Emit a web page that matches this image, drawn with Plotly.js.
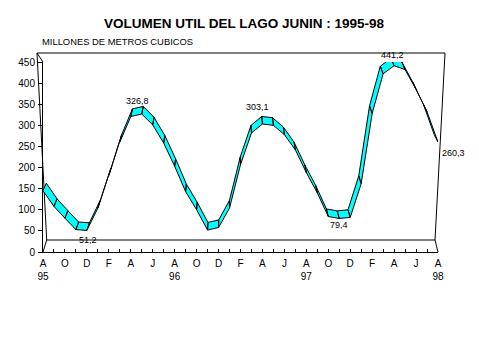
<!DOCTYPE html>
<html>
<head>
<meta charset="utf-8">
<script src="https://cdn.plot.ly/plotly-3.0.1.min.js"></script>
<style>html,body{margin:0;padding:0;background:#fff;}#chart{width:479px;height:359px;}</style>
</head>
<body>
<div id="chart"></div>
<script>
// Monthly volumes, Aug 1995 .. Aug 1998 (millones de m3)
const months = ["A","S","O","N","D","E","F","M","A","M","J","J",
                "A","S","O","N","D","E","F","M","A","M","J","J",
                "A","S","O","N","D","E","F","M","A","M","J","J","A"];
const tickLabels = ["A<br>95","","O","","D","","F","","A","","J","",
                    "A<br>96","","O","","D","","F","","A","","J","",
                    "A<br>97","","O","","D","","F","","A","","J","","A<br>98"];
const volumes = [145,108,80,53,51.2,104,181,260,321,326.8,301,258,
                 203,143,100,52,58,104,207,282,303.1,300,278,242,
                 188,140,84,79.4,82,162,328,422,441.2,432,385,332,260.3];
const labelIdx = [4,9,20,27,32,36];
const labelText = ["51,2","326,8","303,1","79,4","441,2","260,3"];
const yTicks = [0,50,100,150,200,250,300,350,400,450];

// ribbon depth (3D look with a central vanishing point)
const depthXLeft = 0.3, depthXRight = -0.35, depthY = 18;

const idx = volumes.map((v,i)=>i);
const n = volumes.length;
const dx = i => depthXLeft + (depthXRight - depthXLeft) * i / (n - 1);
const rx = [], ry = [];
for (let i = 0; i < n - 1; i++) {
  rx.push(idx[i], idx[i+1], idx[i+1]+dx(i+1), idx[i]+dx(i), idx[i], null);
  ry.push(volumes[i], volumes[i+1], volumes[i+1]+depthY, volumes[i]+depthY, volumes[i], null);
}

const ribbon = {
  x: rx, y: ry, type: 'scatter', mode: 'lines',
  fill: 'toself', fillcolor: '#00FFFF',
  line: {color: '#000000', width: 1},
  hoverinfo: 'skip', cliponaxis: false, showlegend: false
};

// plot area geometry (pixels) for decorative frame
const L = 43, W = 395, T = 62, H = 190;
const px = x => (x - L) / W;
const py = y => (T + H - y) / H;
function seg(x0,y0,x1,y1){
  return {type:'line', xref:'paper', yref:'paper', x0:px(x0), y0:py(y0), x1:px(x1), y1:py(y1),
          line:{color:'#000', width:1}, layer:'below'};
}
const shapes = [
  seg(37,53,445,53),
  seg(37,53,43,62),
  seg(37,53,46.7,240),
  seg(46.7,240,435,240),
  seg(46.7,240,43,252),
  seg(445,53,435,240),
  seg(435,240,438,252)
];

const pos = [
  {xs:1, ys:-10, xa:'center'},
  {xs:-4, ys:13, xa:'center'},
  {xs:-5, ys:17, xa:'center'},
  {xs:0, ys:-7, xa:'center'},
  {xs:-2, ys:11, xa:'center'},
  {xs:2, ys:-11, xa:'left'}
];
const annotations = labelIdx.map((k,j)=>({
  x: idx[k], y: volumes[k], xref:'x', yref:'y', text: labelText[j], showarrow:false,
  xanchor: pos[j].xa, yanchor:'middle', xshift: pos[j].xs, yshift: pos[j].ys,
  font:{family:'Liberation Sans, Arial, sans-serif', size:9, color:'#000'}
}));
annotations.push({
  xref:'paper', yref:'paper', x: px(40), y: py(41), xanchor:'left', yanchor:'middle',
  text:'MILLONES DE METROS CUBICOS', showarrow:false,
  font:{family:'Liberation Sans, Arial, sans-serif', size:9.4, color:'#000'}
});

const layout = {
  width: 479, height: 359,
  margin: {l: L, r: 479 - L - W, t: T, b: 359 - T - H, pad: 0},
  paper_bgcolor: '#fff', plot_bgcolor: 'rgba(0,0,0,0)',
  title: {text: 'VOLUMEN UTIL DEL LAGO JUNIN : 1995-98', xref:'container', yref:'container',
          x: 244/479, y: 1 - 23/359, xanchor:'center', yanchor:'middle',
          font: {family:'Liberation Sans, Arial, sans-serif', size: 13.5, color:'#000', weight: 'bold'}},
  xaxis: {range:[0,36], showgrid:false, zeroline:false, showline:true, linecolor:'#000', linewidth:1,
          tickmode:'array', tickvals: idx, ticktext: tickLabels, ticks:'inside', ticklen:3,
          tickcolor:'#000', tickangle:0, ticklabelstandoff: 2,
          tickfont:{family:'Liberation Sans, Arial, sans-serif', size:10, color:'#000'}, fixedrange:true},
  yaxis: {range:[0,450], showgrid:false, zeroline:false, showline:true, linecolor:'#000', linewidth:1,
          tickmode:'array', tickvals: yTicks, ticktext: yTicks.map(String), ticks:'outside', ticklen:4,
          tickcolor:'#000', ticklabelstandoff: 1,
          tickfont:{family:'Liberation Sans, Arial, sans-serif', size:10, color:'#000'}, fixedrange:true},
  shapes: shapes,
  annotations: annotations,
  showlegend: false
};

Plotly.newPlot('chart', [ribbon], layout, {displayModeBar:false, staticPlot:true});
</script>
</body>
</html>
